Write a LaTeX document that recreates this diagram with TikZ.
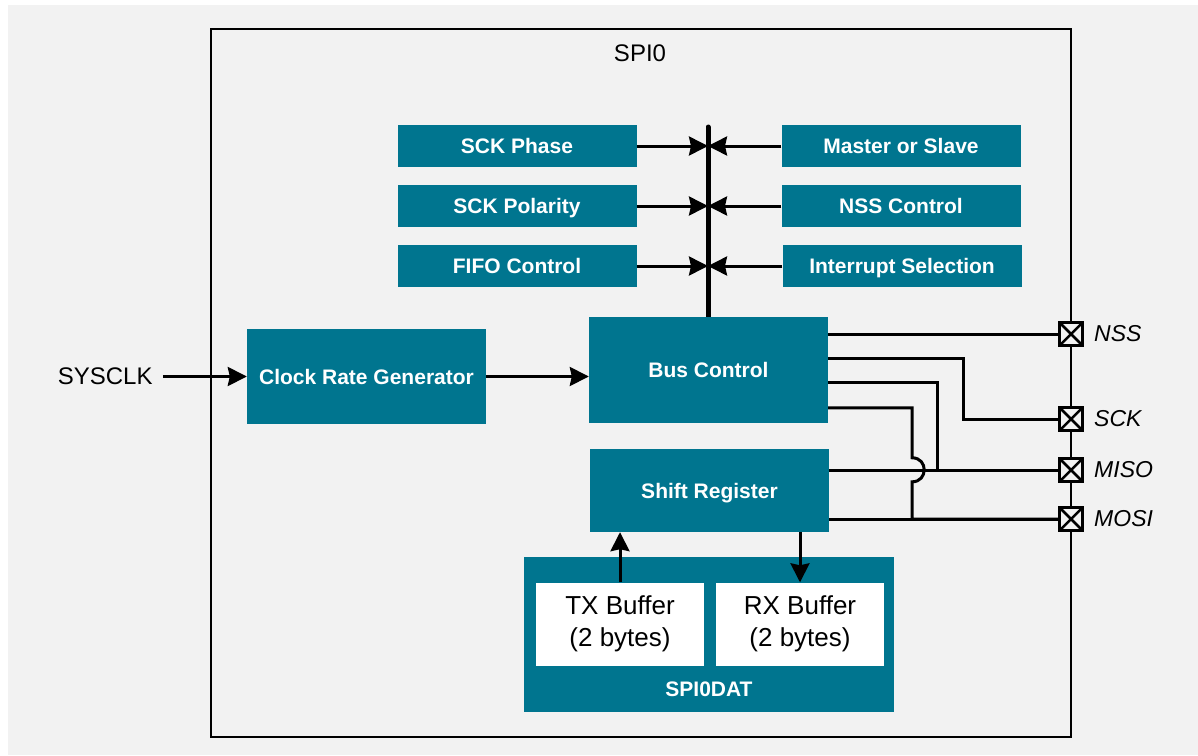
\documentclass[tikz,border=0pt]{standalone}
\usepackage{fontspec}
\setmainfont{Liberation Sans}
\usetikzlibrary{arrows.meta,positioning}
\definecolor{Teal}{RGB}{0,117,143}
\definecolor{Back}{RGB}{242,242,242}
\tikzset{
  bbase/.style={fill=Teal,text=white,inner sep=0pt,minimum width=239pt,text height=15pt,text depth=0pt,font=\fontsize{21}{25}\selectfont\bfseries},
  breg/.style={bbase,minimum height=42pt},
  bbig/.style={bbase,align=center},
  bbuf/.style={fill=white,text=black,inner sep=0pt,minimum width=168pt,minimum height=83pt,align=center,font=\fontsize{26}{32}\selectfont},
  wire/.style={line width=3pt},
  warr/.style={-{Stealth[length=19pt,width=19pt,inset=2pt]},line width=3pt},
  pinbox/.style={draw,line width=3pt,fill=Back,minimum size=23pt,inner sep=0pt,
    path picture={\draw[line width=2.5pt] (path picture bounding box.south west) -- (path picture bounding box.north east)
      (path picture bounding box.north west) -- (path picture bounding box.south east);}},
  pinlab/.style={inner sep=0pt,font=\fontsize{23}{27}\selectfont\itshape},
  plain/.style={inner sep=0pt,font=\fontsize{24}{28}\selectfont}
}

\begin{document}
\begin{tikzpicture}[x=1pt,y=-1pt]
\useasboundingbox (0,0) rectangle (1198,755);
\fill[white] (0,0) rectangle (1198,755);
\fill[Back] (8,5) rectangle (1198,755);
\node[draw,line width=2pt,minimum width=860pt,minimum height=708pt,inner sep=0pt] (spi) at (641,383) {};
\node[plain] (spilab) at (640,53) {SPI0};
% control registers around the bus
\coordinate (btop) at (708,127);
\draw[line width=5pt,line cap=round] (btop) -- (708,318);
\node[breg] (sckph) at (517,146) {SCK Phase};
\node[breg] (sckpol) at (517,206) {SCK Polarity};
\node[breg] (fifo) at (517,266) {FIFO Control};
\node[breg] (mst) at (901,146) {Master or Slave};
\node[breg] (nssc) at (901,206) {NSS Control};
\node[breg] (irq) at (902,266) {Interrupt Selection};
% main blocks
\node[bbig,minimum height=95pt] (crg) at (366.5,376.5) {Clock Rate Generator};
\node[bbig,minimum height=106pt] (busc) at (708.5,370) {Bus Control};
\node[bbig,minimum height=83pt] (shreg) at (709.5,490.5) {Shift Register};
\node[fill=Teal,minimum width=370pt,minimum height=155pt,inner sep=0pt] (dat) at (709,634.5) {};
\node[bbuf] (txb) at (620,624) {TX Buffer\\(2 bytes)};
\node[bbuf,yshift=-1.5pt] (rxb) at (800,622.5) {RX Buffer\\(2 bytes)};
\node[bbase,minimum width=0pt] (datlab) at (709,689) {SPI0DAT};
\node[plain,left=94pt of crg] (sysclk) {SYSCLK};
% port pins
\node[pinbox] (nss) at (1071,334) {};
\node[pinbox] (sck) at (1071,419) {};
\node[pinbox] (miso) at (1071,470) {};
\node[pinbox] (mosi) at (1071,519) {};
\node[pinlab,right=10pt of nss] (nsslab) {NSS};
\node[pinlab,right=10pt of sck] (scklab) {SCK};
\node[pinlab,right=10pt of miso] (misolab) {MISO};
\node[pinlab,right=10pt of mosi] (mosilab) {MOSI};
\draw[warr] (sckph.east) -- (sckph.east -| btop);
\draw[warr] (sckpol.east) -- (sckpol.east -| btop);
\draw[warr] (fifo.east) -- (fifo.east -| btop);
\draw[warr] (mst.west) -- (mst.west -| btop);
\draw[warr] (nssc.west) -- (nssc.west -| btop);
\draw[warr] (irq.west) -- (irq.west -| btop);
\draw[warr] ([xshift=10pt]sysclk.east) -- (crg.west);
\draw[warr] (crg.east) -- (crg.east -| busc.west);
\draw[warr] (txb.north) -- (txb.north |- shreg.south);
\draw[warr] (rxb.north |- shreg.south) -- (rxb.north);
\draw[wire] (busc.east |- nss) -- (nss);
\draw[wire] ([yshift=-42pt]busc.north east) -- ++(135,0) |- (sck);
\draw[wire] ([yshift=-66pt]busc.north east) -- ++(109,0) |- (miso);
\draw[wire] ([yshift=-91pt]busc.north east) -- ++(84,0) -- ++(0,50)
  .. controls +(16,0) and +(16,0) .. ++(0,24) |- (mosi);
\draw[wire] (shreg.east |- miso) -- (miso);
\draw[wire] (shreg.east |- mosi) -- (mosi);
\end{tikzpicture}
\end{document}
